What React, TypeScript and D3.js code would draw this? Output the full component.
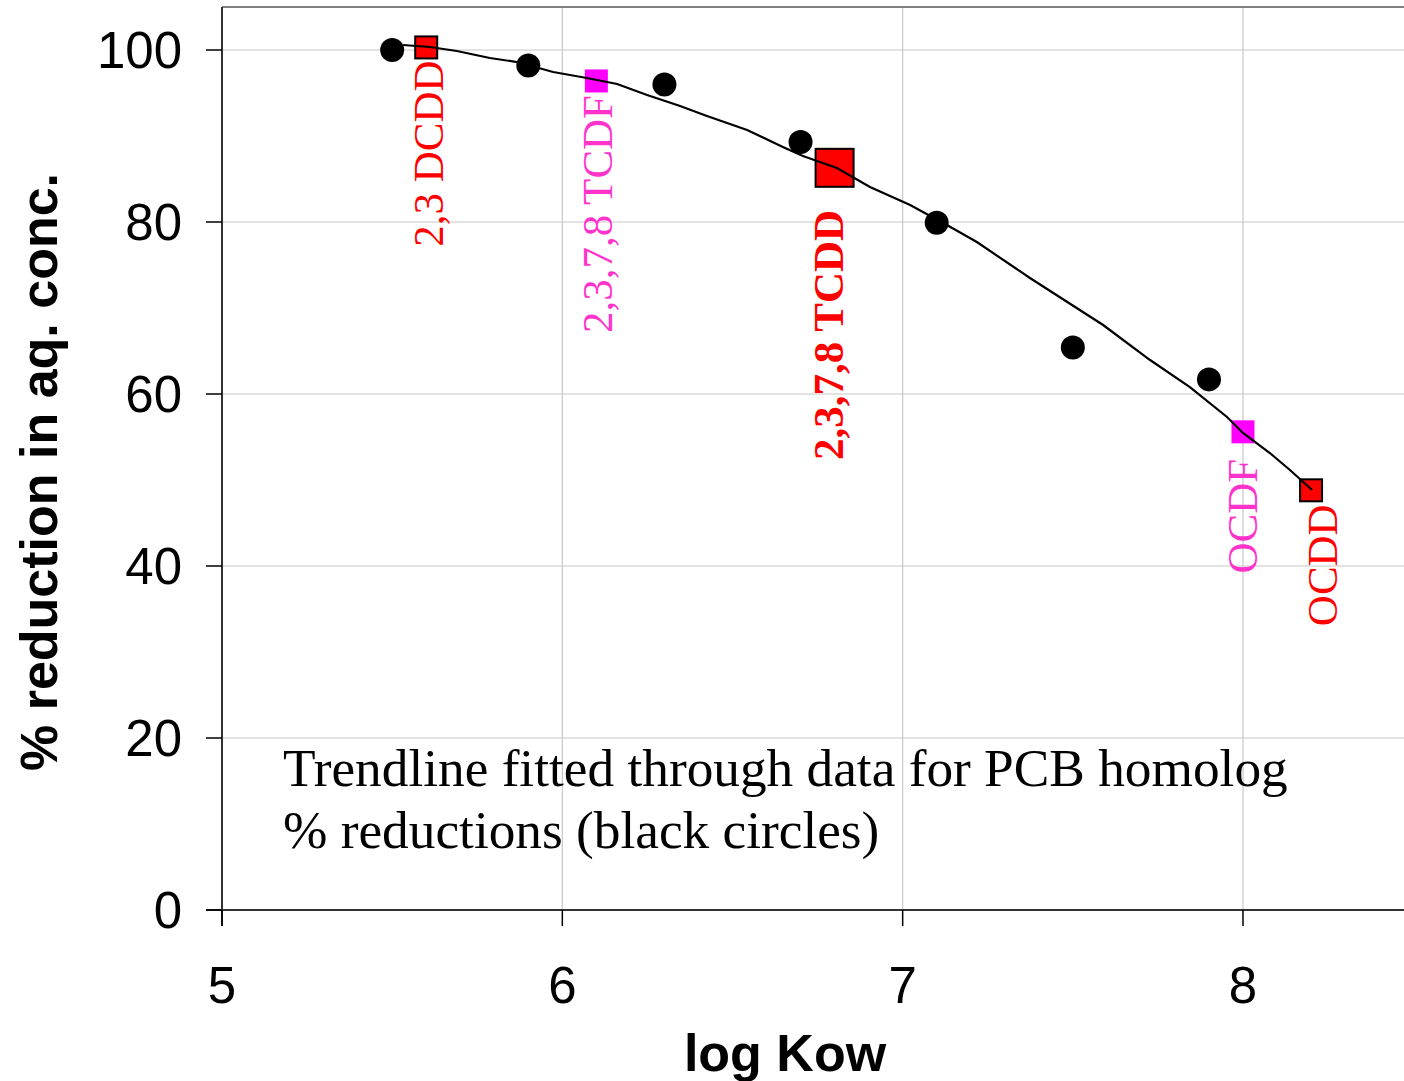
import React from "react";
import * as d3 from "d3";

// PCB homolog % reductions (black circles)
const pcbLogKow = [5.5, 5.9, 6.3, 6.7, 7.1, 7.5, 7.9];
const pcbReduction = [100, 98.2, 96.0, 89.3, 79.9, 65.4, 61.7];

// Dioxin / furan congeners
const congenerNames = ["2,3 DCDD", "2,3,7,8 TCDF", "2,3,7,8 TCDD", "OCDF", "OCDD"];
const congenerLogKow = [5.6, 6.1, 6.8, 8.0, 8.2];
const congenerReduction = [100.3, 96.4, 86.3, 55.6, 48.8];

// Trendline
const trendX = [5.532, 5.611, 5.69, 5.787, 5.867, 5.973, 6.072, 6.161, 6.249, 6.346, 6.425, 6.543, 6.648, 6.707, 6.807, 6.904, 7.022, 7.139, 7.218, 7.374, 7.589, 7.727, 7.844, 7.953, 8.0, 8.079, 8.138, 8.203];
const trendY = [100.58, 100.35, 99.88, 99.07, 98.6, 97.44, 96.74, 96.05, 94.77, 93.49, 92.33, 90.7, 88.72, 87.67, 86.28, 84.07, 81.98, 79.45, 77.67, 73.49, 68.02, 63.95, 60.81, 57.33, 55.47, 53.14, 51.16, 48.84];

const xTicks = [5, 6, 7, 8];
const yTicks = [0, 20, 40, 60, 80, 100];

// styles for congeners
const congenerStyle = [
  { fill: "#FF0000", stroke: "#000", size: 22, text: "#FF0000", bold: false, dx: 17, dy: 13 },
  { fill: "#FF00FF", stroke: "none", size: 23, text: "#FF33CC", bold: false, dx: 16, dy: 14 },
  { fill: "#FF0000", stroke: "#000", size: 38, text: "#FF0000", bold: true, dx: 8, dy: 42 },
  { fill: "#FF00FF", stroke: "none", size: 23, text: "#FF33CC", bold: false, dx: 14, dy: 27 },
  { fill: "#FF0000", stroke: "#000", size: 22, text: "#FF0000", bold: false, dx: 26, dy: 14 },
];

const W = 1404;
const H = 1081;
const left = 222;
const bottom = 910;
const pxPerX = 340.33;
const pxPerY = 8.6;

export default function App() {
  const x = d3.scaleLinear().domain([5, 8.5]).range([left, left + 3.5 * pxPerX]);
  const y = d3.scaleLinear().domain([0, 105]).range([bottom, bottom - 105 * pxPerY]);
  const top = y(105);
  const right = x(8.5);

  const line = d3
    .line<number>()
    .x((_, i) => x(trendX[i]))
    .y((d) => y(d));

  const sans = "'Liberation Sans', Arial, sans-serif";
  const serif = "'Liberation Serif', 'Times New Roman', serif";

  return (
    <svg
      width={W}
      height={H}
      style={{ position: "absolute", left: 0, top: 0, background: "#fff" }}
    >
      <rect x={0} y={0} width={W} height={H} fill="#fff" />
      {/* gridlines */}
      {yTicks.filter((t) => t > 0).map((t) => (
        <line key={"gy" + t} x1={left} x2={right} y1={y(t)} y2={y(t)} stroke="#c8c8c8" strokeWidth={1.2} />
      ))}
      {xTicks.filter((t) => t > 5).map((t) => (
        <line key={"gx" + t} x1={x(t)} x2={x(t)} y1={top} y2={bottom} stroke="#c8c8c8" strokeWidth={1.2} />
      ))}
      {/* frame */}
      <line x1={left} x2={right} y1={top} y2={top} stroke="#808080" strokeWidth={2} />
      <line x1={right} x2={right} y1={top} y2={bottom} stroke="#808080" strokeWidth={2} />
      <line x1={left} x2={left} y1={top} y2={bottom + 16} stroke="#333" strokeWidth={2} />
      <line x1={left - 16} x2={right} y1={bottom} y2={bottom} stroke="#333" strokeWidth={2} />
      {/* ticks */}
      {yTicks.map((t) => (
        <g key={"ty" + t}>
          <line x1={left - 16} x2={left} y1={y(t)} y2={y(t)} stroke="#000" strokeWidth={1.5} />
          <text x={left - 40} y={y(t) + 18} textAnchor="end" fontFamily={sans} fontSize={51} fill="#000">
            {t}
          </text>
        </g>
      ))}
      {xTicks.map((t) => (
        <g key={"tx" + t}>
          <line x1={x(t)} x2={x(t)} y1={bottom} y2={bottom + 16} stroke="#000" strokeWidth={1.5} />
          <text x={x(t)} y={bottom + 93} textAnchor="middle" fontFamily={sans} fontSize={51} fill="#000">
            {t}
          </text>
        </g>
      ))}
      {/* axis titles */}
      <text
        transform={`translate(57,472) rotate(-90)`}
        textAnchor="middle"
        fontFamily={sans}
        fontWeight="bold"
        fontSize={52}
        fill="#000"
      >
        % reduction in aq. conc.
      </text>
      <text x={785} y={1071} textAnchor="middle" fontFamily={sans} fontWeight="bold" fontSize={52} fill="#000">
        log Kow
      </text>
      {/* PCB circles */}
      {pcbLogKow.map((v, i) => (
        <circle key={"c" + i} cx={x(v)} cy={y(pcbReduction[i])} r={12} fill="#000" />
      ))}
      {/* congeners */}
      {congenerLogKow.map((v, i) => {
        const s = congenerStyle[i];
        const cx = x(v);
        const cy = y(congenerReduction[i]);
        return (
          <rect
            key={"s" + i}
            x={cx - s.size / 2}
            y={cy - s.size / 2}
            width={s.size}
            height={s.size}
            fill={s.fill}
            stroke={s.stroke}
            strokeWidth={s.stroke === "none" ? 0 : 2}
          />
        );
      })}
      {/* trendline */}
      <path d={line(trendY) || ""} fill="none" stroke="#000" strokeWidth={2.2} />
      {congenerLogKow.map((v, i) => {
        const s = congenerStyle[i];
        const cx = x(v);
        const cy = y(congenerReduction[i]);
        return (
          <text
            key={"l" + i}
            transform={`translate(${cx + s.dx},${cy + s.dy}) rotate(-90)`}
            textAnchor="end"
            fontFamily={serif}
            fontWeight={s.bold ? "bold" : "normal"}
            fontSize={43}
            fill={s.text}
          >
            {congenerNames[i]}
          </text>
        );
      })}
      {/* note */}
      <text fontFamily={serif} fontSize={53.3} fill="#000">
        <tspan x={283} y={786}>Trendline fitted through data for PCB homolog</tspan>
        <tspan x={283} y={848}>% reductions (black circles)</tspan>
      </text>
    </svg>
  );
}
